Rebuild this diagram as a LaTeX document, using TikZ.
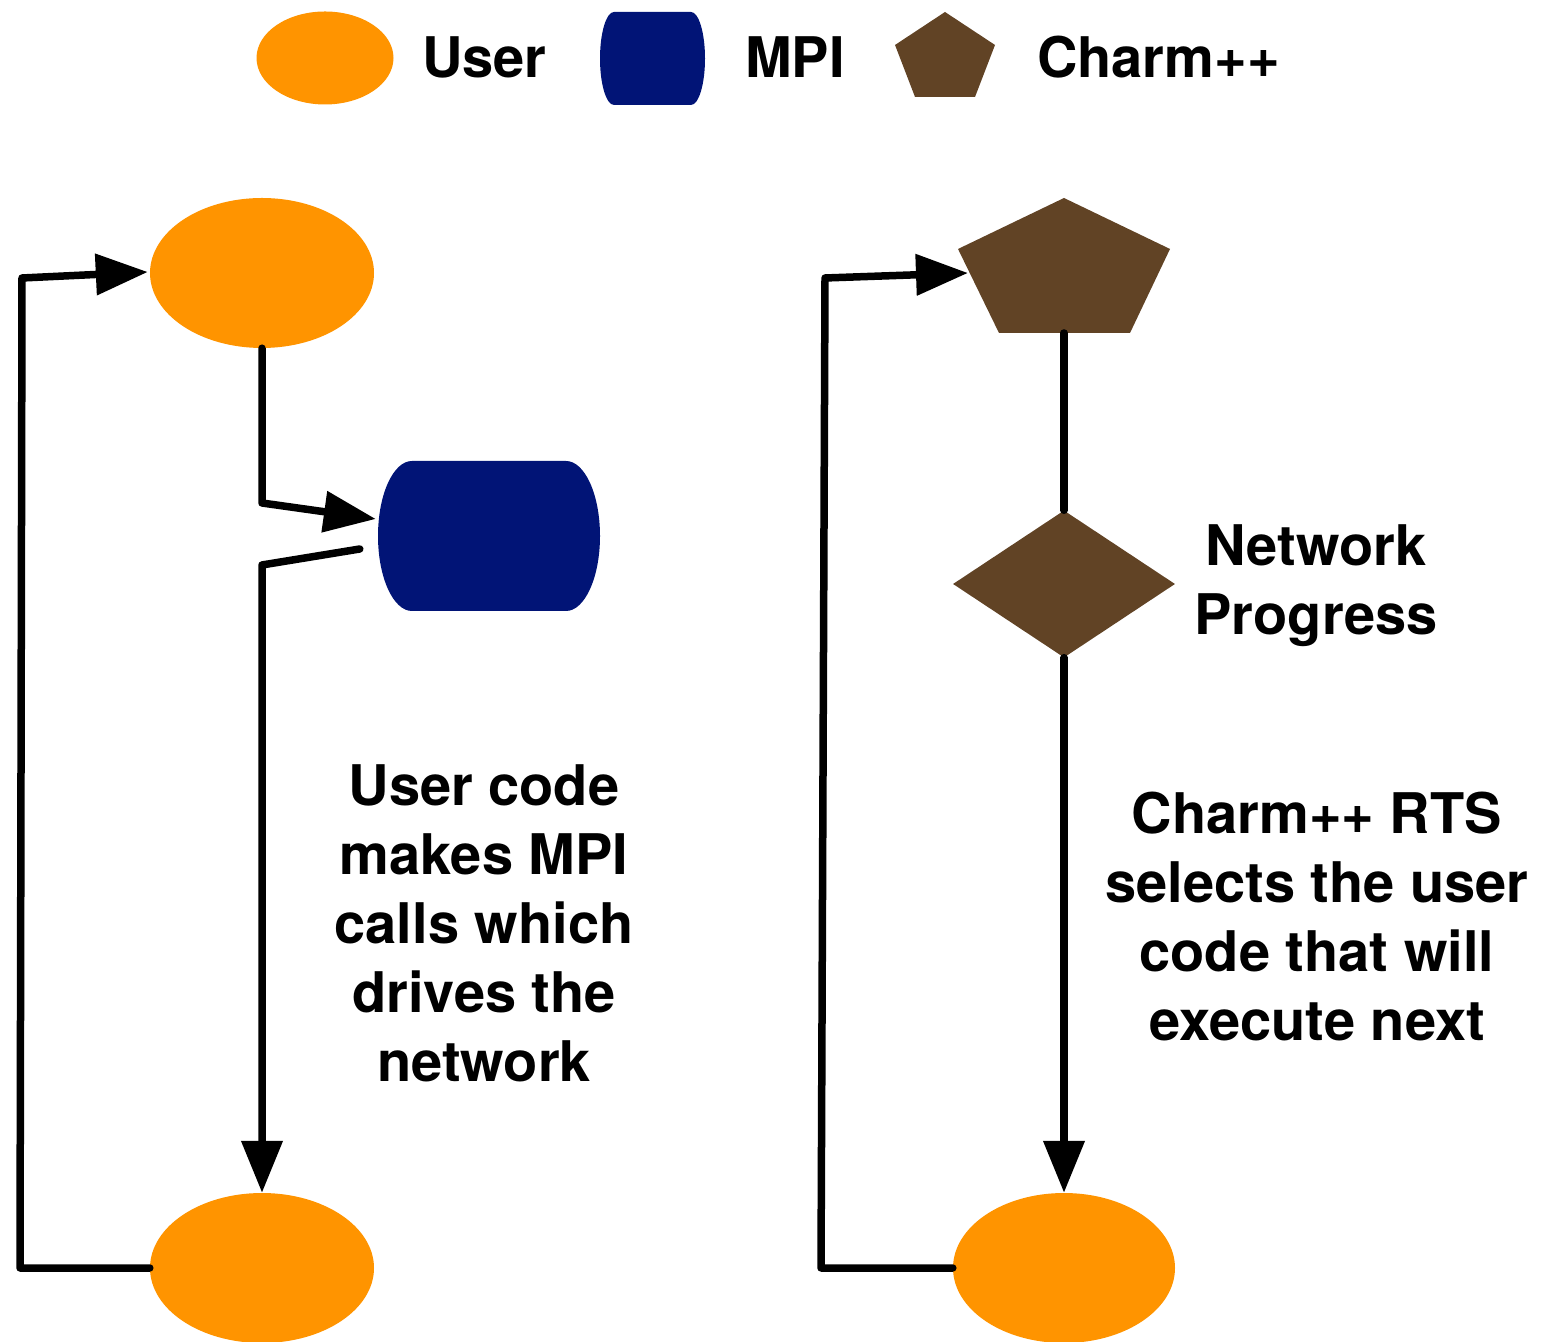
\documentclass[tikz,border=0pt]{standalone}
\usepackage{fontspec}
\setmainfont{TeX Gyre Heros}
\usetikzlibrary{shapes.geometric,arrows.meta,calc}
\definecolor{userorange}{RGB}{255,148,0}
\definecolor{mpiblue}{RGB}{1,20,118}
\definecolor{charmbrown}{RGB}{97,67,37}
\tikzset{
  userell/.style={ellipse, fill=userorange, inner sep=0pt},
  conn/.style={line width=7.5pt, line join=round, line cap=round},
  arr/.style={conn, -{Triangle[length=52pt,width=40pt]}},
  lbl/.style={inner sep=0pt, font=\bfseries\fontsize{56}{69}\selectfont, align=center},
}
\begin{document}
\begin{tikzpicture}[x=1pt,y=1pt]
\useasboundingbox (0,0) rectangle (1541,1341);
% legend
\node[userell, minimum width=137pt, minimum height=93pt] (lguser) at (325,1283) {};
\node[lbl, anchor=base west] (lgusertxt) at (422,1263) {User};
\node[inner sep=0pt, minimum width=105pt, minimum height=93pt] (lgmpi) at (652.5,1282.5) {};
\fill[mpiblue] (614,1329) -- (691,1329) arc[start angle=90,end angle=-90,x radius=14,y radius=46.5]
  -- (614,1236) arc[start angle=270,end angle=90,x radius=14,y radius=46.5] -- cycle;
\node[lbl, anchor=base west] (lgmpitxt) at (745,1263) {MPI};
\fill[charmbrown] (945,1329) -- (995,1296) -- (975,1244) -- (915,1244) -- (895,1296) -- cycle;
\node[lbl, anchor=base west] (lgcharmtxt) at (1037,1263) {Charm++};
% left flow
\node[userell, minimum width=224pt, minimum height=150pt] (u1) at (262,1068) {};
\node[userell, minimum width=224pt, minimum height=150pt] (u2) at (262,73) {};
\node[inner sep=0pt, minimum width=222pt, minimum height=150pt] (mpi) at (489,805) {};
\fill[mpiblue] (412,880) -- (566,880) arc[start angle=90,end angle=-90,x radius=34,y radius=75]
  -- (412,730) arc[start angle=270,end angle=90,x radius=34,y radius=75] -- cycle;
\coordinate (mpiin) at ($(mpi.west)+(-2,17)$);
\coordinate (mpiout) at ($(mpi.west)+(-18,-13)$);
\draw[arr] (u1.south) -- (262,838) -- (mpiin);
\draw[arr] (mpiout) -- (262,776) -- (u2.north);
\draw[arr] (u2.west) -- (20,73) -- (22,1063) -- ($(u1.west)+(-2,1)$);
\node[lbl] (usertxt) at (484,418) {User code\\makes MPI\\calls which\\drives the\\network};
% right flow
\fill[charmbrown] (1064,1143) -- (1170,1092) -- (1130,1008) -- (999,1008) -- (958,1092) -- cycle;
\coordinate (pentbot) at (1064,1008);
\coordinate (pentleft) at (968,1068);
\node[diamond, fill=charmbrown, inner sep=0pt, minimum width=222pt, minimum height=147pt] (net) at (1064,757) {};
\node[userell, minimum width=222pt, minimum height=150pt] (u4) at (1064,73) {};
\draw[conn] (pentbot) -- (net.north);
\draw[arr] (net.south) -- (u4.north);
\draw[arr] (u4.west) -- (821,73) -- (825,1063) -- (pentleft);
\node[lbl] (nettxt) at (1316,755) {Network\\Progress};
\node[lbl] (rtstxt) at (1317,424) {Charm++ RTS\\selects the user\\code that will\\execute next};
\end{tikzpicture}
\end{document}
